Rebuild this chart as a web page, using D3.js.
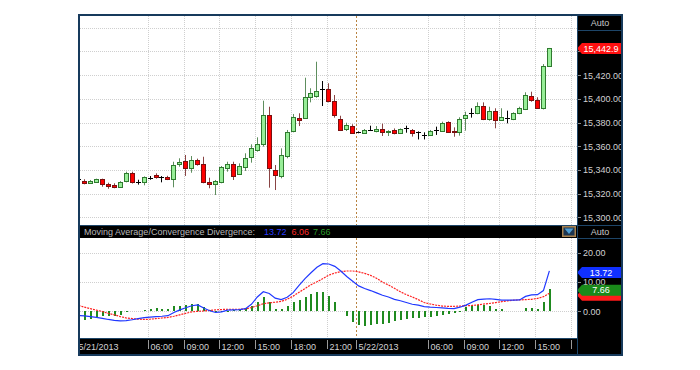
<!DOCTYPE HTML>
<html>
<head>
<title>Candlestick with MACD</title>
<meta charset="UTF8">
<script src="https://d3js.org/d3.v7.min.js"></script>
<style>
body { margin: 0; background: #fff; }
svg { display: block; font-family: "Liberation Sans", Arial, sans-serif; }
</style>
</head>
<body>
<svg width="700" height="370"></svg>
<script>
// 30 minute bars, 5/21/2013 00:00 to 5/22/2013 15:00 (first bar is cut by the frame)
const opens = [
  15332, 15330.4, 15329.2, 15330.0, 15332.1, 15328.1, 15327.5, 15325.6, 15330.4, 15337.1,
  15330.0, 15329.8, 15333.4, 15335.6, 15333.8, 15334.3, 15332.1, 15344.7, 15347.3, 15341.4,
  15348.1, 15345.0, 15330.0, 15327.8, 15329.5, 15341.9, 15345.0, 15336.8, 15342.7, 15350.9,
  15357.0, 15361.6, 15386.3, 15339.9, 15334.6, 15352.0, 15372.8, 15384.1, 15383.5, 15401.3,
  15402.6, 15408.0, 15408.0, 15398.1, 15383.0, 15374.5, 15377.0, 15371.7, 15370.9, 15373.7,
  15373.2, 15374.5, 15371.8, 15373.7, 15370.9, 15375.1, 15373.7, 15371.7, 15369.5, 15369.5,
  15373.5, 15373.1, 15380.2, 15373.1, 15371.7, 15384.1, 15388.3, 15387.8, 15393.9, 15382.7,
  15389.7, 15382.1, 15383.5, 15383.0, 15387.8, 15391.4, 15402.4, 15398.9, 15392.0, 15427.7];
const highs = [
  15333.5, 15332.1, 15331.5, 15332.6, 15332.6, 15329.2, 15328.7, 15330.5, 15338.5, 15338.5,
  15331.7, 15334.5, 15334.8, 15337.1, 15334.8, 15335.0, 15346.9, 15349.8, 15352.6, 15351.7,
  15349.5, 15351.1, 15333.4, 15331.5, 15343.3, 15346.9, 15346.9, 15345.5, 15354.0, 15361.6,
  15367.5, 15398.4, 15393.3, 15344.1, 15358.2, 15373.7, 15387.2, 15387.8, 15417.8, 15408.9,
  15431.3, 15415.0, 15413.1, 15403.2, 15385.7, 15379.8, 15378.5, 15372.5, 15374.5, 15377.3,
  15377.0, 15379.0, 15373.5, 15375.0, 15375.0, 15377.3, 15374.5, 15372.5, 15371.7, 15373.7,
  15376.5, 15380.7, 15381.0, 15375.9, 15384.4, 15389.1, 15392.0, 15397.0, 15397.0, 15393.3,
  15392.0, 15392.0, 15390.0, 15388.6, 15393.3, 15405.5, 15406.0, 15401.3, 15429.3, 15442.9];
const lows = [
  15330.5, 15327.8, 15328.5, 15329.5, 15325.8, 15324.1, 15324.5, 15325.0, 15329.5, 15328.5,
  15327.6, 15327.0, 15331.7, 15332.6, 15329.5, 15331.4, 15325.3, 15342.7, 15334.9, 15337.6,
  15343.6, 15328.7, 15324.5, 15318.8, 15328.7, 15338.5, 15331.5, 15336.0, 15339.1, 15346.1,
  15355.4, 15359.6, 15325.0, 15323.0, 15332.9, 15349.8, 15371.7, 15377.0, 15383.0, 15397.0,
  15400.9, 15393.9, 15397.0, 15384.1, 15372.8, 15372.8, 15370.3, 15370.9, 15370.3, 15372.8,
  15371.7, 15368.6, 15368.6, 15370.0, 15370.3, 15371.4, 15368.1, 15365.7, 15365.7, 15368.9,
  15369.5, 15372.2, 15371.5, 15368.0, 15368.9, 15373.1, 15384.1, 15387.0, 15382.0, 15381.5,
  15375.1, 15381.5, 15379.3, 15382.0, 15387.0, 15390.5, 15397.5, 15391.4, 15391.0, 15427.0];
const closes = [
  15332, 15328.7, 15330.9, 15332.1, 15327.8, 15326.7, 15325.8, 15329.5, 15337.6, 15329.5,
  15330.0, 15333.8, 15333.4, 15334.3, 15333.8, 15332.1, 15344.1, 15346.7, 15341.9, 15348.4,
  15344.7, 15329.5, 15327.8, 15330.6, 15342.2, 15345.0, 15335.1, 15343.3, 15350.0, 15358.2,
  15361.9, 15386.3, 15341.4, 15335.7, 15352.6, 15372.2, 15384.9, 15381.9, 15401.8, 15404.6,
  15406.8, 15408.0, 15398.4, 15386.3, 15373.7, 15377.9, 15370.9, 15371.7, 15373.7, 15373.7,
  15374.2, 15372.2, 15372.6, 15370.9, 15374.3, 15375.1, 15370.9, 15371.7, 15369.5, 15372.8,
  15373.5, 15379.3, 15372.2, 15371.7, 15383.0, 15386.3, 15388.3, 15393.9, 15383.0, 15390.0,
  15382.1, 15384.4, 15383.5, 15387.8, 15392.0, 15403.2, 15398.9, 15392.2, 15427.7, 15442.9];

const macdLine = [
  -1.5, -1.7, -1.9, -2.2, -2.5, -2.9, -3.2, -3.4, -3.3, -3.0,
  -2.6, -2.3, -2.1, -1.9, -1.8, -1.6, -0.5, 0.4, 1.1, 1.8,
  2.1, 1.0, 0.1, -0.5, -0.3, 0.3, 0.4, 0.5, 0.8, 2.3,
  4.8, 6.6, 6.0, 4.4, 3.9, 4.7, 6.3, 8.8, 11.1, 13.1,
  15.0, 16.2, 16.1, 15.3, 13.7, 11.8, 10.2, 8.6, 7.7, 7.0,
  6.2, 5.4, 4.8, 4.0, 3.5, 2.9, 2.3, 2.0, 1.5, 1.3,
  1.2, 1.1, 0.9, 0.8, 1.3, 2.0, 3.0, 3.9, 4.1, 4.2,
  4.0, 3.7, 3.7, 3.7, 3.8, 5.0, 5.5, 5.6, 7.0, 13.72];
const signalLine = [
  1.9, 1.3, 0.8, 0.3, -0.2, -0.8, -1.3, -1.9, -2.4, -2.6,
  -2.8, -2.9, -2.8, -2.6, -2.4, -2.2, -1.8, -1.3, -0.8, -0.3,
  -0.1, 0.0, 0.2, 0.4, 0.5, 0.6, 0.6, 0.6, 0.7, 1.2,
  1.8, 2.5, 2.8, 3.0, 3.3, 4.0, 5.1, 6.4, 7.7, 9.0,
  10.0, 11.1, 12.3, 13.0, 13.5, 13.7, 13.7, 13.4, 12.9, 12.2,
  11.2, 9.9, 8.9, 7.8, 6.6, 5.6, 4.8, 3.9, 2.9, 2.4,
  2.0, 1.7, 1.6, 1.6, 1.7, 1.8, 1.9, 2.1, 2.4, 2.6,
  2.9, 3.2, 3.5, 3.7, 3.8, 3.9, 4.0, 4.3, 4.9, 6.06];
const histogram = [
  -3.3, -3.0, -2.6, -2.3, -1.8, -1.6, -1.6, -1.4, -0.2, 0,
  0, 0.5, 0.7, 0.9, 0.8, 0.7, 1.6, 1.8, 2.1, 2.3,
  2.3, 1.4, 0.2, -0.2, -0.2, -0.1, 0.2, 0.3, 0.9, 1.6,
  3.1, 4.8, 3.1, 0.8, 0.6, 1.6, 3.1, 3.9, 4.8, 5.9,
  6.5, 6.5, 5.0, 3.1, 0, -1.8, -3.8, -4.9, -5.3, -4.9,
  -4.6, -4.3, -4.0, -3.5, -3.2, -2.9, -2.5, -2.3, -2.2, -2.1,
  -1.7, -1.4, -1.0, -0.7, -0.3, 1.4, 1.6, 1.9, 1.9, 1.6,
  0.8, 0.6, 0, 0, 0, 1.0, 1.1, 0.8, 3.1, 7.66];

// time axis: bar index where each label sits
const tickIdx = [0, 12, 18, 24, 30, 36, 42, 47, 59, 65, 71, 77, 83];
const tickLabels = ["5/21/2013", "06:00", "09:00", "12:00", "15:00", "18:00", "21:00",
  "5/22/2013", "06:00", "09:00", "12:00", "15:00", ""];
const dayBreak = "5/22/2013";

const priceTicks = [15300, 15320, 15340, 15360, 15380, 15400, 15420, 15440, 15460];
const macdTicks = [-10, 0, 10, 20];
const lastValues = { macd: 13.72, signal: 6.06, hist: 7.66 };

const svg = d3.select("svg");
const L = 80, R = 577, panelR = 622;
const mainTop = 16, mainBot = 225, headBot = 238, macdBot = 338, axisBot = 354;
const fmtPrice = d3.format(",.2f");

const x = d3.scaleLinear().domain([0, 79]).range([78.04, 548.88]);
const y = d3.scaleLinear().domain([15300, 15440]).range([217.3, 51.4]);
const ym = d3.scaleLinear().domain([0, 20]).range([311, 252.6]);
const cx = i => Math.round(x(i));
const tickX = i => Math.round(x(i - 0.3)) + 0.5;
const lastPrice = closes[closes.length - 1];
const priceMarkY = y(lastPrice) + 0.5;

const defs = svg.append("defs");
defs.append("clipPath").attr("id", "clipMain")
  .append("rect").attr("x", L).attr("y", mainTop).attr("width", R - L).attr("height", mainBot - mainTop);
defs.append("clipPath").attr("id", "clipMacd")
  .append("rect").attr("x", L).attr("y", headBot).attr("width", R - L).attr("height", macdBot - headBot);
defs.append("clipPath").attr("id", "clipAxis")
  .append("rect").attr("x", L).attr("y", macdBot).attr("width", panelR - L).attr("height", axisBot - macdBot);
defs.append("clipPath").attr("id", "clipRight")
  .append("rect").attr("x", R).attr("y", 30).attr("width", panelR - R - 1).attr("height", axisBot - 30);

// backgrounds
svg.append("rect").attr("x", L).attr("y", mainTop).attr("width", R - L).attr("height", mainBot - mainTop).attr("fill", "#fff");
svg.append("rect").attr("x", L).attr("y", mainBot).attr("width", R - L).attr("height", headBot - mainBot).attr("fill", "#000");
svg.append("rect").attr("x", L).attr("y", macdBot).attr("width", panelR - L).attr("height", axisBot - macdBot).attr("fill", "#000");
svg.append("rect").attr("x", R).attr("y", 15).attr("width", panelR - R).attr("height", axisBot - 15).attr("fill", "#000");

// grids
const gridMain = svg.append("g").attr("clip-path", "url(#clipMain)");
const gridMacd = svg.append("g").attr("clip-path", "url(#clipMacd)");
[[gridMain, mainTop, mainBot], [gridMacd, headBot, macdBot]].forEach(([g, t, b]) => {
  g.selectAll("line.v")
    .data(tickIdx.filter((d, k) => tickLabels[k] !== dayBreak))
    .enter().append("line")
    .attr("x1", d => tickX(d)).attr("x2", d => tickX(d))
    .attr("y1", t).attr("y2", b)
    .attr("stroke", "#cfcfcf").attr("stroke-dasharray", "1,1");
});
gridMain.selectAll("line.h").data(priceTicks).enter().append("line")
  .attr("x1", L).attr("x2", R)
  .attr("y1", d => Math.round(y(d)) + 0.5).attr("y2", d => Math.round(y(d)) + 0.5)
  .attr("stroke", "#cfcfcf").attr("stroke-dasharray", "1,1");
gridMacd.selectAll("line.h").data(macdTicks).enter().append("line")
  .attr("x1", L).attr("x2", R)
  .attr("y1", d => Math.round(ym(d)) + 0.5).attr("y2", d => Math.round(ym(d)) + 0.5)
  .attr("stroke", "#cfcfcf").attr("stroke-dasharray", "1,1");

// day separator
const breakIdx = tickIdx[tickLabels.indexOf(dayBreak)];
[[mainTop, mainBot], [headBot, macdBot]].forEach(([t, b]) => {
  svg.append("line")
    .attr("x1", tickX(breakIdx)).attr("x2", tickX(breakIdx))
    .attr("y1", t).attr("y2", b)
    .attr("stroke", "#b8823f").attr("stroke-dasharray", "2,2");
});

// candles
const dir = i => closes[i] > opens[i] ? "up" : (closes[i] < opens[i] ? "down" : "flat");
const bodyFill = { up: "#98ee98", down: "#ff0000", flat: "#000" };
const edge = { up: "#2f7a2f", down: "#7a1010", flat: "#000" };
const wick = { up: "#5e8e5e", down: "#8a4444", flat: "#000" };
const idx = d3.range(opens.length);

const candles = svg.append("g").attr("clip-path", "url(#clipMain)");
candles.selectAll("line.wick").data(idx).enter().append("line")
  .attr("x1", i => cx(i) + 0.5).attr("x2", i => cx(i) + 0.5)
  .attr("y1", i => y(highs[i])).attr("y2", i => y(lows[i]))
  .attr("stroke", i => wick[dir(i)]);
candles.selectAll("rect.body").data(idx.filter(i => dir(i) !== "flat")).enter().append("rect")
  .attr("x", i => cx(i) - 1.5)
  .attr("y", i => Math.round(y(Math.max(opens[i], closes[i]))) + 0.5)
  .attr("width", 4)
  .attr("height", i => Math.max(1, Math.round(y(Math.min(opens[i], closes[i]))) - Math.round(y(Math.max(opens[i], closes[i])))))
  .attr("fill", i => bodyFill[dir(i)])
  .attr("stroke", i => edge[dir(i)]);
candles.selectAll("line.doji").data(idx.filter(i => dir(i) === "flat")).enter().append("line")
  .attr("x1", i => cx(i) - 2).attr("x2", i => cx(i) + 3)
  .attr("y1", i => Math.round(y(opens[i])) + 0.5).attr("y2", i => Math.round(y(opens[i])) + 0.5)
  .attr("stroke", "#000");

// MACD panel
const macd = svg.append("g").attr("clip-path", "url(#clipMacd)");
macd.selectAll("rect").data(idx.filter(i => histogram[i] !== 0)).enter().append("rect")
  .attr("x", i => cx(i))
  .attr("width", 2)
  .attr("y", i => Math.round(Math.min(ym(0), ym(histogram[i]))))
  .attr("height", i => Math.max(1, Math.round(Math.abs(ym(histogram[i]) - ym(0)))))
  .attr("fill", "#1f8a1f");
macd.append("path")
  .attr("d", d3.line().x(i => x(i) + 0.5).y(i => ym(signalLine[i]))(idx))
  .attr("fill", "none").attr("stroke", "#ff2020").attr("stroke-width", 1.2).attr("stroke-dasharray", "2,1");
macd.append("path")
  .attr("d", d3.line().x(i => x(i) + 0.5).y(i => ym(macdLine[i]))(idx))
  .attr("fill", "none").attr("stroke", "#2038ff").attr("stroke-width", 1.2);

// header of the MACD pane
const head = svg.append("text").attr("x", 84).attr("y", 235).attr("font-size", 9);
head.append("tspan").attr("fill", "#b8b8b8").text("Moving Average/Convergence Divergence:");
head.append("tspan").attr("dx", 9).attr("fill", "#2a3cff").text(lastValues.macd.toFixed(2));
head.append("tspan").attr("dx", 5).attr("fill", "#ff2a2a").text(lastValues.signal.toFixed(2));
head.append("tspan").attr("dx", 4).attr("fill", "#2a9a2a").text(lastValues.hist.toFixed(2));
svg.append("rect").attr("x", 562).attr("y", 226).attr("width", 14).attr("height", 11).attr("fill", "#a8824e");
svg.append("rect").attr("x", 563.5).attr("y", 227.5).attr("width", 11).attr("height", 8).attr("fill", "#1c3550");
svg.append("path").attr("d", "M564.5,228.5 L573.5,228.5 L569,234 Z").attr("fill", "#4d9fd6");

// time axis
const axisG = svg.append("g").attr("clip-path", "url(#clipAxis)");
axisG.selectAll("line").data(tickIdx).enter().append("line")
  .attr("x1", d => tickX(d)).attr("x2", d => tickX(d))
  .attr("y1", macdBot + 2).attr("y2", macdBot + 11)
  .attr("stroke", "#9a9a9a");
axisG.selectAll("text").data(tickIdx).enter().append("text")
  .attr("x", d => tickX(d) + 2).attr("y", 350)
  .attr("font-size", 9).attr("fill", "#d2d2d2")
  .text((d, k) => tickLabels[k]);

// right value axes (labels hidden under the price marker or the header are left out)
const shownPrices = priceTicks.filter(d => y(d) > 36 && Math.abs(y(d) - priceMarkY) > 8);
const right = svg.append("g").attr("clip-path", "url(#clipRight)");
right.selectAll("line.p").data(priceTicks).enter().append("line")
  .attr("x1", R).attr("x2", R + 4)
  .attr("y1", d => Math.round(y(d)) + 0.5).attr("y2", d => Math.round(y(d)) + 0.5)
  .attr("stroke", "#8a8a8a");
right.selectAll("text.p").data(shownPrices).enter().append("text")
  .attr("x", R + 6).attr("y", d => y(d) + 3.5)
  .attr("font-size", 9).attr("fill", "#d2d2d2")
  .text(d => fmtPrice(d));
right.selectAll("line.m").data(macdTicks.filter(d => ym(d) < macdBot)).enter().append("line")
  .attr("x1", R).attr("x2", R + 4)
  .attr("y1", d => Math.round(ym(d)) + 0.5).attr("y2", d => Math.round(ym(d)) + 0.5)
  .attr("stroke", "#8a8a8a");
right.selectAll("text.m").data(macdTicks.filter(d => ym(d) < macdBot)).enter().append("text")
  .attr("x", R + 6).attr("y", d => ym(d) + 3.5)
  .attr("font-size", 9).attr("fill", "#d2d2d2")
  .text(d => d.toFixed(2));

// value markers
function marker(cy, fill, label) {
  const g = svg.append("g");
  g.append("path")
    .attr("d", `M${R},${cy} L${R + 5},${cy - 5.5} L${panelR},${cy - 5.5} L${panelR},${cy + 5.5} L${R + 5},${cy + 5.5} Z`)
    .attr("fill", fill);
  if (label) {
    g.append("text").attr("x", 601).attr("y", cy + 3.3)
      .attr("text-anchor", "middle").attr("font-size", 9).attr("fill", "#fff")
      .text(label);
  }
}
marker(priceMarkY, "#ff1010", d3.format(",.1f")(lastPrice));
marker(ym(lastValues.signal) + 2, "#ff1a1a", "");
marker(ym(lastValues.hist) + 1.5, "#1a8a1a", lastValues.hist.toFixed(2));
marker(ym(lastValues.macd) + 1.5, "#1030ff", lastValues.macd.toFixed(2));

// "Auto" boxes
svg.append("text").attr("x", 600).attr("y", 25.5).attr("text-anchor", "middle")
  .attr("font-size", 9).attr("fill", "#c8c8c8").text("Auto");
svg.append("text").attr("x", 600).attr("y", 235).attr("text-anchor", "middle")
  .attr("font-size", 9).attr("fill", "#c8c8c8").text("Auto");

// frame and separators
const sep = "#1d4568";
[[R + 0.5, 15, R + 0.5, axisBot], [R, 30.5, panelR, 30.5], [L, mainBot + 0.5, panelR, mainBot + 0.5],
 [R, headBot + 0.5, panelR, headBot + 0.5], [L, macdBot + 0.5, R, macdBot + 0.5]].forEach(s => {
  svg.append("line").attr("x1", s[0]).attr("y1", s[1]).attr("x2", s[2]).attr("y2", s[3])
    .attr("stroke", sep);
});
svg.append("rect").attr("x", 79).attr("y", 15).attr("width", panelR - 79).attr("height", axisBot + 1 - 15)
  .attr("fill", "none").attr("stroke", "#173a5c").attr("stroke-width", 2);
</script>
</body>
</html>
